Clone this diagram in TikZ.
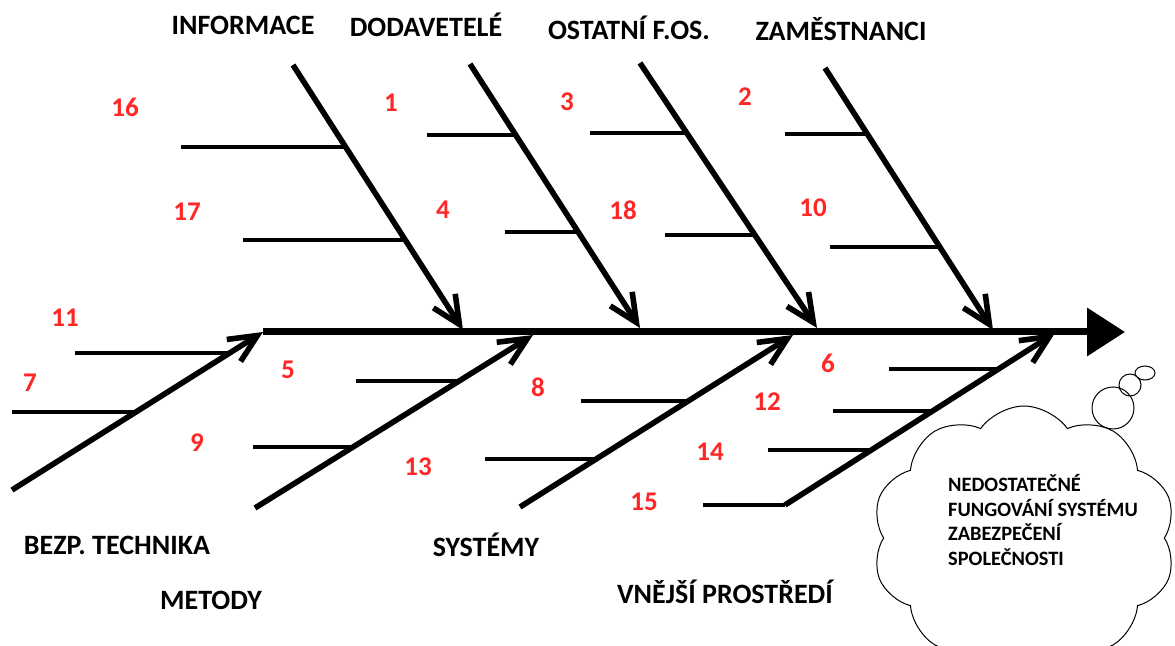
\documentclass[tikz,border=0pt]{standalone}
\usepackage{fontspec}
\setmainfont{Carlito}
\usetikzlibrary{arrows.meta,calc,shapes.symbols}
\definecolor{fishRed}{HTML}{FF2626}

\begin{document}
\begin{tikzpicture}[x=0.5pt,y=-0.5pt,
    font=\fontsize{14}{16}\selectfont\bfseries,
    spine/.style={line width=3.5pt,-{Triangle[length=19pt,width=23.5pt]}},
    bone/.style={line width=2.8pt,-{Straight Barb[length=14pt,width=13pt]}},
    twig/.style={line width=1.8pt},
    cause/.style={inner sep=0pt},
    num/.style={text=fishRed,inner sep=0pt,
                font=\fontsize{13.5}{16}\selectfont\bfseries}]
    \clip (0,0) rectangle (1175,646);

    % tails and heads of the main bones
    \coordinate (infoT) at (293,65);  \coordinate (infoH) at (463,330);
    \coordinate (dodT)  at (470,64);  \coordinate (dodH)  at (640,328);
    \coordinate (ostT)  at (640,63);  \coordinate (ostH)  at (817,328);
    \coordinate (zamT)  at (825,68);  \coordinate (zamH)  at (993,330);
    \coordinate (techT) at (12,490);  \coordinate (techH) at (263,332);
    \coordinate (metT)  at (255,508); \coordinate (metH)  at (533,335);
    \coordinate (sysT)  at (520,507); \coordinate (sysH)  at (793,335);
    \coordinate (envT)  at (785,505); \coordinate (envH)  at (1055,333);
    \coordinate (goal)  at (1125,332);

    \draw[spine] (techH) -- (goal);
    \foreach \b in {info,dod,ost,zam,tech,met,sys,env}
      \draw[bone] (\b T) -- (\b H);

    % small causes hanging off each bone
    \foreach \b/\t/\l in {info/.309/165, info/.660/162,
                          dod/.269/89,   dod/.636/73,
                          ost/.264/97,   ost/.649/90,
                          zam/.252/82,   zam/.683/110,
                          tech/.867/155, tech/.494/124,
                          met/.734/103,  met/.353/100,
                          sys/.616/107,  sys/.279/111,
                          env/.791/110,  env/.547/100,
                          env/.320/103,  env/0/82}
      \draw[twig] ($(\b T)!\t!(\b H)$) -- ++(-\l,0);

    % bone titles
    \node[cause] (informace) at (243,25)  {INFORMACE};
    \node[cause] (dodavatele) at (426,25) {DODAVETELÉ};
    \node[cause] (ostatni) at (629,28)    {OSTATNÍ F.OS.};
    \node[cause] (zamestnanci) at (841,29) {ZAMĚSTNANCI};
    \node[cause] (technika) at (117,545)  {BEZP. TECHNIKA};
    \node[cause] (metody) at (211,600)    {METODY};
    \node[cause] (systemy) at (486,545)   {SYSTÉMY};
    \node[cause] (prostredi) at (725,592) {VNĚJŠÍ PROSTŘEDÍ};

    % numbered causes
    \foreach \n/\x/\y in {16/125/107, 17/187/212, 1/391/103, 4/443/210,
                          3/567/102, 18/623/210, 2/745/97, 10/813/208,
                          11/65/318, 7/30/383, 5/288/370, 9/197/443,
                          13/418/467, 8/538/387, 6/828/363, 12/767/402,
                          14/710/452, 15/644/502}
      \node[num] (n\n) at (\x,\y) {\n};

    % the effect in a thought cloud
    \node[cloud,draw,line width=0.5pt,cloud puffs=10,cloud puff arc=110,
          minimum width=152pt,minimum height=132pt] (bubble) at (1024,538) {};
    \node[align=left,inner sep=0pt,
          font=\fontsize{10.2}{12.2}\selectfont\bfseries] (effect) at (1043,520)
      {NEDOSTATEČNÉ\\FUNGOVÁNÍ SYSTÉMU\\ZABEZPEČENÍ\\SPOLEČNOSTI};
    \draw[line width=0.5pt] (1113,408) circle[radius=21];
    \draw[line width=0.5pt] (1130,385) circle[radius=11];
    \draw[line width=0.5pt] (1145,373) ellipse[x radius=10,y radius=7];
\end{tikzpicture}
\end{document}
